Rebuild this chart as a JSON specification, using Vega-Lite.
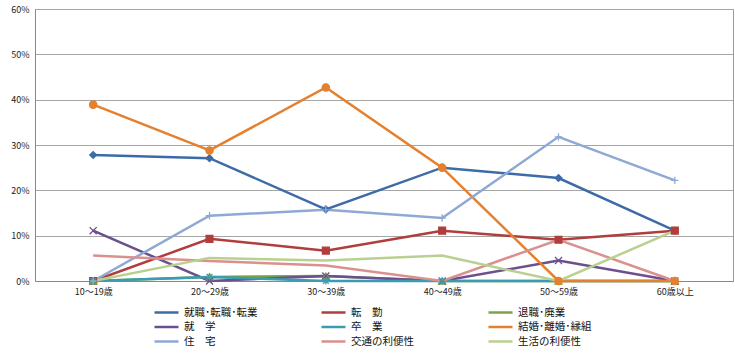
{
  "$schema": "https://vega.github.io/schema/vega-lite/v6.json",
  "width": 698,
  "height": 272,
  "autosize": {"type": "none"},
  "padding": {"left": 35, "top": 9, "right": 2, "bottom": 76},
  "background": "white",
  "config": {
    "font": "Noto Sans CJK JP",
    "view": {"stroke": "#9a9a9a", "strokeWidth": 1},
    "axis": {"labelFont": "Noto Sans CJK JP", "labelColor": "#222", "labelFontSize": 9}
  },
  "data": {
    "values": [
      {"age": "10～19歳", "series": "就職･転職･転業", "value": 0.278},
      {"age": "20～29歳", "series": "就職･転職･転業", "value": 0.271},
      {"age": "30～39歳", "series": "就職･転職･転業", "value": 0.158},
      {"age": "40～49歳", "series": "就職･転職･転業", "value": 0.25},
      {"age": "50～59歳", "series": "就職･転職･転業", "value": 0.227},
      {"age": "60歳以上", "series": "就職･転職･転業", "value": 0.111},
      {"age": "10～19歳", "series": "転　勤", "value": 0},
      {"age": "20～29歳", "series": "転　勤", "value": 0.093},
      {"age": "30～39歳", "series": "転　勤", "value": 0.067},
      {"age": "40～49歳", "series": "転　勤", "value": 0.111},
      {"age": "50～59歳", "series": "転　勤", "value": 0.091},
      {"age": "60歳以上", "series": "転　勤", "value": 0.111},
      {"age": "10～19歳", "series": "退職･廃業", "value": 0},
      {"age": "20～29歳", "series": "退職･廃業", "value": 0.009},
      {"age": "30～39歳", "series": "退職･廃業", "value": 0.011},
      {"age": "40～49歳", "series": "退職･廃業", "value": 0},
      {"age": "50～59歳", "series": "退職･廃業", "value": 0},
      {"age": "60歳以上", "series": "退職･廃業", "value": 0},
      {"age": "10～19歳", "series": "就　学", "value": 0.111},
      {"age": "20～29歳", "series": "就　学", "value": 0},
      {"age": "30～39歳", "series": "就　学", "value": 0.011},
      {"age": "40～49歳", "series": "就　学", "value": 0},
      {"age": "50～59歳", "series": "就　学", "value": 0.045},
      {"age": "60歳以上", "series": "就　学", "value": 0},
      {"age": "10～19歳", "series": "卒　業", "value": 0},
      {"age": "20～29歳", "series": "卒　業", "value": 0.009},
      {"age": "30～39歳", "series": "卒　業", "value": 0},
      {"age": "40～49歳", "series": "卒　業", "value": 0},
      {"age": "50～59歳", "series": "卒　業", "value": 0},
      {"age": "60歳以上", "series": "卒　業", "value": 0},
      {"age": "10～19歳", "series": "結婚･離婚･縁組", "value": 0.389},
      {"age": "20～29歳", "series": "結婚･離婚･縁組", "value": 0.288},
      {"age": "30～39歳", "series": "結婚･離婚･縁組", "value": 0.427},
      {"age": "40～49歳", "series": "結婚･離婚･縁組", "value": 0.25},
      {"age": "50～59歳", "series": "結婚･離婚･縁組", "value": 0},
      {"age": "60歳以上", "series": "結婚･離婚･縁組", "value": 0},
      {"age": "10～19歳", "series": "住　宅", "value": 0},
      {"age": "20～29歳", "series": "住　宅", "value": 0.144},
      {"age": "30～39歳", "series": "住　宅", "value": 0.157},
      {"age": "40～49歳", "series": "住　宅", "value": 0.139},
      {"age": "50～59歳", "series": "住　宅", "value": 0.318},
      {"age": "60歳以上", "series": "住　宅", "value": 0.222},
      {"age": "10～19歳", "series": "交通の利便性", "value": 0.056},
      {"age": "20～29歳", "series": "交通の利便性", "value": 0.044},
      {"age": "30～39歳", "series": "交通の利便性", "value": 0.034},
      {"age": "40～49歳", "series": "交通の利便性", "value": 0},
      {"age": "50～59歳", "series": "交通の利便性", "value": 0.091},
      {"age": "60歳以上", "series": "交通の利便性", "value": 0},
      {"age": "10～19歳", "series": "生活の利便性", "value": 0},
      {"age": "20～29歳", "series": "生活の利便性", "value": 0.051},
      {"age": "30～39歳", "series": "生活の利便性", "value": 0.045},
      {"age": "40～49歳", "series": "生活の利便性", "value": 0.056},
      {"age": "50～59歳", "series": "生活の利便性", "value": 0},
      {"age": "60歳以上", "series": "生活の利便性", "value": 0.111}
    ]
  },
  "encoding": {
    "x": {
      "field": "age", "type": "ordinal", "sort": null,
      "scale": {"type": "point", "padding": 0.5},
      "axis": {"title": null, "labelAngle": 0, "ticks": false, "domainColor": "#888", "labelPadding": 6}
    },
    "y": {
      "field": "value", "type": "quantitative",
      "scale": {"domain": [0, 0.6]},
      "axis": {"title": null, "format": ".0%", "values": [0, 0.1, 0.2, 0.3, 0.4, 0.5, 0.6], "ticks": false, "labelPadding": 6, "gridColor": "#a6a6a6", "domainColor": "#888"}
    }
  },
  "layer": [
    {
      "mark": {"type": "line", "strokeWidth": 2.5},
      "encoding": {
        "color": {
          "field": "series", "type": "nominal",
          "scale": {
            "domain": ["就職･転職･転業", "転　勤", "退職･廃業", "就　学", "卒　業", "結婚･離婚･縁組", "住　宅", "交通の利便性", "生活の利便性"],
            "range": ["#3D6BA8", "#B03E3C", "#7BA444", "#6C4F8E", "#3A9CB2", "#E5802E", "#8FA9D5", "#D9908F", "#B9D18E"]
          },
          "legend": {
            "title": null, "orient": "none", "legendX": 124, "legendY": 296,
            "columns": 3, "direction": "horizontal", "gridAlign": "all",
            "symbolType": "M-2,0L2,0", "symbolSize": 144, "symbolStrokeWidth": 2.5,
            "labelFontSize": 10.5, "labelColor": "#111", "labelFont": "Noto Sans CJK JP",
            "columnPadding": 58, "rowPadding": 1.5, "labelOffset": 10
          }
        }
      }
    },
    {
      "transform": [{"filter": "datum.series !== '交通の利便性' && datum.series !== '生活の利便性'"}],
      "mark": {"type": "point", "filled": true, "opacity": 1, "strokeWidth": 1.3},
      "encoding": {
        "color": {"field": "series", "type": "nominal", "legend": null},
        "stroke": {
          "field": "series", "type": "nominal", "legend": null,
          "scale": {
            "domain": ["就職･転職･転業", "転　勤", "退職･廃業", "就　学", "卒　業", "結婚･離婚･縁組", "住　宅", "交通の利便性", "生活の利便性"],
            "range": ["#3D6BA8", "#B03E3C", "#7BA444", "#6C4F8E", "#3A9CB2", "#E5802E", "#8FA9D5", "#D9908F", "#B9D18E"]
          }
        },
        "shape": {
          "field": "series", "type": "nominal", "legend": null,
          "scale": {
            "domain": ["就職･転職･転業", "転　勤", "退職･廃業", "就　学", "卒　業", "結婚･離婚･縁組", "住　宅"],
            "range": ["diamond", "square", "triangle-up", "M-1,-1L1,1M-1,1L1,-1", "M-0.8,-0.8L0.8,0.8M-0.8,0.8L0.8,-0.8M0,-1L0,1", "circle", "M-1,0L1,0M0,-1L0,1"]
          }
        },
        "size": {
          "field": "series", "type": "nominal", "legend": null,
          "scale": {
            "domain": ["就職･転職･転業", "転　勤", "退職･廃業", "就　学", "卒　業", "結婚･離婚･縁組", "住　宅"],
            "range": [45, 55, 40, 60, 60, 60, 70]
          }
        }
      }
    }
  ]
}
